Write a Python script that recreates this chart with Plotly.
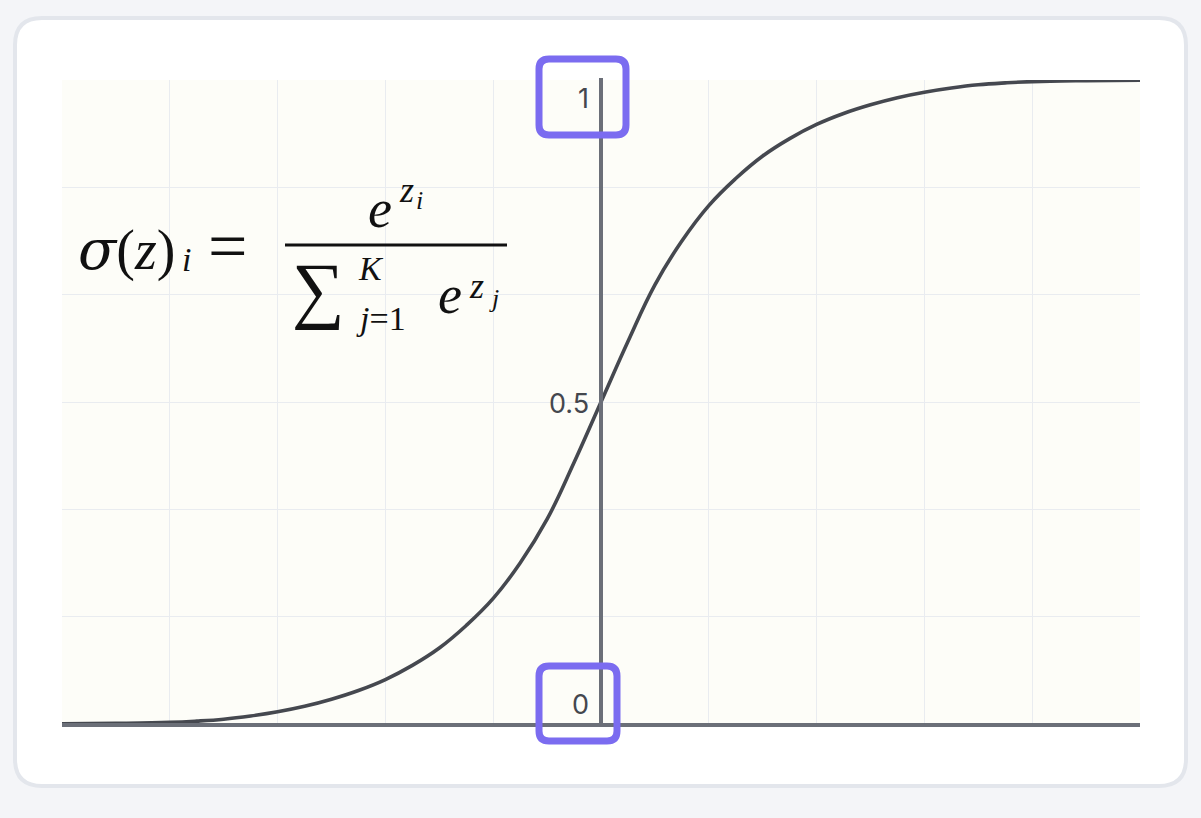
import plotly.graph_objects as go

# ---- data ----
xs = [-5, -4.5, -4, -3.75, -3.5, -3.25, -3, -2.75, -2.5, -2.25, -2, -1.75, -1.5,
      -1.25, -1, -0.75, -0.5, -0.25, 0, 0.25, 0.5, 0.75, 1, 1.25, 1.5, 1.75, 2,
      2.25, 2.5, 2.75, 3, 3.25, 3.5, 3.75, 4, 4.5, 5]
ys = [0.0003, 0.001, 0.0025, 0.0045, 0.0075, 0.0125, 0.019, 0.0275, 0.0385, 0.052,
      0.069, 0.091, 0.118, 0.153, 0.195, 0.250, 0.318, 0.406, 0.5, 0.594, 0.682,
      0.750, 0.805, 0.847, 0.882, 0.909, 0.931, 0.948, 0.9615, 0.9725, 0.981,
      0.9875, 0.9925, 0.9955, 0.9975, 0.999, 0.9997]
y_tick_labels = ["0", "0.5", "1"]
y_tick_values = [0, 0.5, 1]
grid_x = [-5, -4, -3, -2, -1, 0, 1, 2, 3, 4, 5]
grid_y = [0, 1/6, 2/6, 3/6, 4/6, 5/6, 1]

W, H = 1201, 818
L, R, T, B = 62, 1140, 80, 724


def px(x):
    return (x - L) / (R - L)


def py(y):
    return (B - y) / (B - T)


def rrect(x0, y0, x1, y1, r):
    pts = [
        ("M", [(x0 + r, y0)]), ("L", [(x1 - r, y0)]), ("Q", [(x1, y0), (x1, y0 + r)]),
        ("L", [(x1, y1 - r)]), ("Q", [(x1, y1), (x1 - r, y1)]),
        ("L", [(x0 + r, y1)]), ("Q", [(x0, y1), (x0, y1 - r)]),
        ("L", [(x0, y0 + r)]), ("Q", [(x0, y0), (x0 + r, y0)]),
    ]
    s = ""
    for cmd, ps in pts:
        s += cmd + " " + " ".join(f"{px(a):.5f},{py(b):.5f}" for a, b in ps) + " "
    return s + "Z"


fig = go.Figure()
fig.add_trace(go.Scatter(
    x=xs, y=ys, mode="lines",
    line=dict(color="#45484f", width=3.6, shape="spline", smoothing=1.2),
    hoverinfo="skip", showlegend=False, cliponaxis=False,
))

shapes = []
shapes.append(dict(type="path", xref="paper", yref="paper", layer="below",
                   path=rrect(15, 18, 1186, 786, 27),
                   fillcolor="#ffffff", line=dict(color="#e3e6ec", width=4)))
shapes.append(dict(type="rect", xref="paper", yref="paper", layer="below",
                   x0=0, x1=1, y0=0, y1=1, fillcolor="#fdfdf8", line=dict(width=0)))
shapes.append(dict(type="line", xref="x", yref="paper", layer="above",
                   x0=0, x1=0, y0=py(724), y1=py(78),
                   line=dict(color="#6b6f78", width=4)))
shapes.append(dict(type="line", xref="paper", yref="paper", layer="above",
                   x0=0, x1=1, y0=py(725), y1=py(725),
                   line=dict(color="#6b6f78", width=4)))
shapes.append(dict(type="line", xref="paper", yref="paper", layer="above",
                   x0=px(285), x1=px(507), y0=py(245), y1=py(245),
                   line=dict(color="#111111", width=3)))
purple = "#7b6cf0"
shapes.append(dict(type="path", xref="paper", yref="paper", layer="above",
                   path=rrect(539, 59, 626, 135, 10),
                   fillcolor="rgba(0,0,0,0)", line=dict(color=purple, width=7)))
shapes.append(dict(type="path", xref="paper", yref="paper", layer="above",
                   path=rrect(539, 666, 617, 741, 10),
                   fillcolor="rgba(0,0,0,0)", line=dict(color=purple, width=7)))

ann = []
tick_pos = {"1": 98, "0.5": 404, "0": 704}
for lab in y_tick_labels:
    ann.append(dict(xref="paper", yref="paper", x=px(591), y=py(tick_pos[lab]),
                    xanchor="right", yanchor="middle", showarrow=False,
                    text=lab, font=dict(family="Inter", size=27, color="#44474e")))

serif = "Liberation Serif"


def mtext(text, x, y, size, anchor="left", family=serif):
    ann.append(dict(xref="paper", yref="paper", x=px(x), y=py(y),
                    xanchor=anchor, yanchor="middle", showarrow=False,
                    text=text, font=dict(family=family, size=size, color="#111111")))


mtext('<span style="font-family:DejaVu Serif"><i>σ</i></span>(<i>z</i>)', 76, 249, 56)
mtext("<i>i</i>", 180, 259, 34)
mtext("=", 206, 246, 70)
mtext("<i>e</i>", 366, 209, 54)
mtext("<i>z</i>", 397, 190, 36)
mtext("<i>i</i>", 414, 200, 26)
mtext("∑", 290, 289, 74)
mtext("<i>K</i>", 356, 268, 34)
mtext("<i>j</i>=1", 354, 318, 34)
mtext("<i>e</i>", 436, 295, 54)
mtext("<i>z</i>", 467, 286, 36)
mtext("<i>j</i>", 487, 298, 26)

fig.update_layout(
    width=W, height=H,
    margin=dict(l=L, r=W - R, t=T, b=H - B, pad=0),
    paper_bgcolor="#f4f5f8",
    plot_bgcolor="rgba(0,0,0,0)",
    shapes=shapes, annotations=ann,
    xaxis=dict(range=[-5, 5], tickvals=grid_x, showticklabels=False, ticks="",
               showgrid=True, gridcolor="#e9ecf0", gridwidth=1.2,
               zeroline=False, showline=False, fixedrange=True),
    yaxis=dict(range=[0, 1], tickvals=grid_y, showticklabels=False, ticks="",
               showgrid=True, gridcolor="#e9ecf0", gridwidth=1.2,
               zeroline=False, showline=False, fixedrange=True),
)

fig.write_html("out.html", config={"displayModeBar": False},
               post_script="document.body.style.margin='0';"
                           "document.body.style.background='#f4f5f8';"
                           "document.body.style.overflow='hidden';")
